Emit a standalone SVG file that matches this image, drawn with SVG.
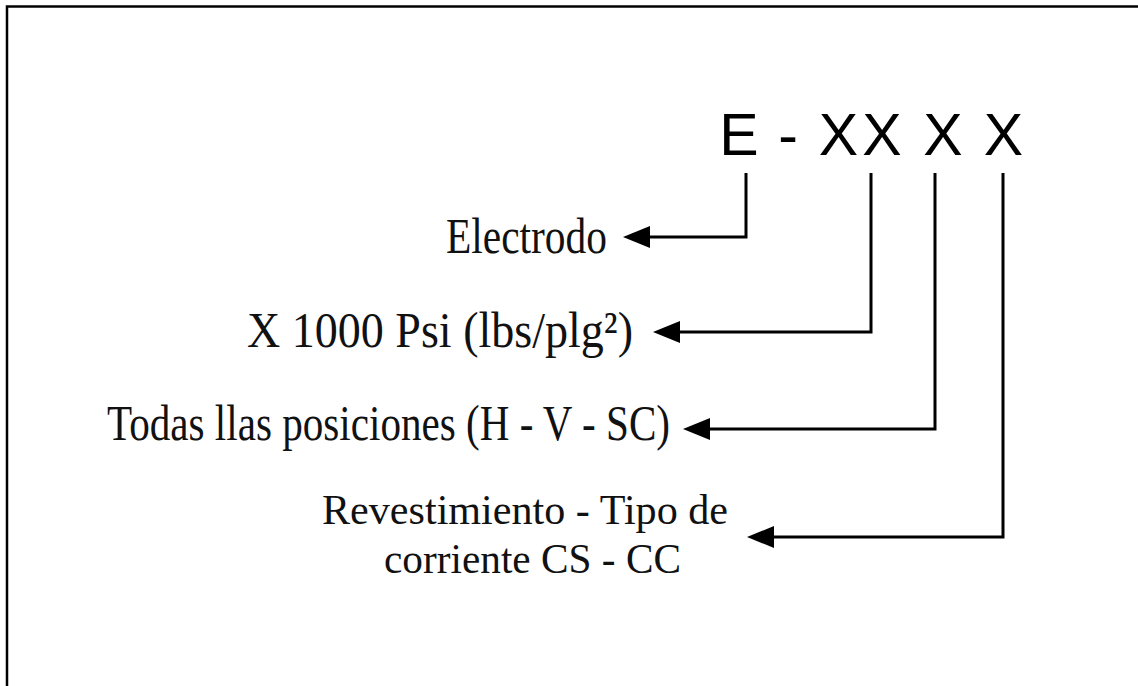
<svg xmlns="http://www.w3.org/2000/svg" width="1138" height="686" viewBox="0 0 1138 686">
<style>
.lbl{font-family:"Liberation Serif","Times New Roman",serif;font-size:50px;fill:#111}
.lbl2{font-family:"Liberation Serif","Times New Roman",serif;font-size:43px;fill:#111}
.code{font-family:"Liberation Sans",Arial,sans-serif;font-size:59px;fill:#000}
.conn{fill:none;stroke:#000;stroke-width:3}
</style>
<defs>
<marker id="ah" markerUnits="userSpaceOnUse" markerWidth="30" markerHeight="26" refX="0" refY="12" orient="auto" viewBox="0 0 30 24">
<path d="M0,1 L27,12 L0,23 z" fill="#000"/>
</marker>
</defs>
<rect x="7" y="6.5" width="1140" height="690" fill="#fff" stroke="#000" stroke-width="2.5"/>
<g id="code">
<text class="code" y="155" text-anchor="middle"><tspan x="739">E</tspan><tspan x="788">-</tspan><tspan x="838.5">X</tspan><tspan x="882">X</tspan><tspan x="943">X</tspan><tspan x="1003.5">X</tspan></text>
</g>
<g id="node-electrodo">
<text class="lbl" x="446" y="253" textLength="161" lengthAdjust="spacingAndGlyphs">Electrodo</text>
</g>
<g id="node-psi">
<text class="lbl" x="247" y="347" textLength="386" lengthAdjust="spacingAndGlyphs">X 1000 Psi (lbs/plg²)</text>
</g>
<g id="node-posiciones">
<text class="lbl" x="107" y="440" textLength="563" lengthAdjust="spacingAndGlyphs">Todas llas posiciones (H - V - SC)</text>
</g>
<g id="node-revestimiento">
<text class="lbl2" x="322" y="524" textLength="406" lengthAdjust="spacingAndGlyphs">Revestimiento - Tipo de</text>
<text class="lbl2" x="384" y="572.5" textLength="297" lengthAdjust="spacingAndGlyphs">corriente CS - CC</text>
</g>
<g id="connectors">
<path class="conn" d="M746 173 V237 H650" marker-end="url(#ah)"/>
<path class="conn" d="M871 173 V332 H680" marker-end="url(#ah)"/>
<path class="conn" d="M935 173 V429 H710" marker-end="url(#ah)"/>
<path class="conn" d="M1003 173 V537 H774" marker-end="url(#ah)"/>
</g>
</svg>
